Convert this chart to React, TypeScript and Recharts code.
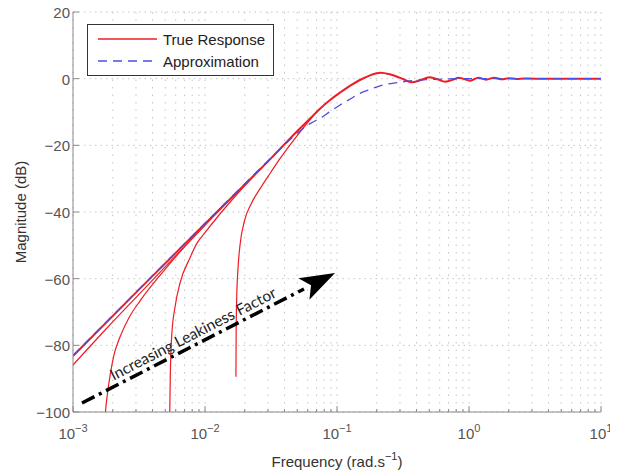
import React from 'react';
import { LineChart, Line, XAxis, YAxis, CartesianGrid, ReferenceLine, ReferenceDot } from 'recharts';

// ---- axis ticks ----
const freqTicks = [
  0.001, 0.002, 0.003, 0.004, 0.005, 0.006, 0.007, 0.008, 0.009,
  0.01, 0.02, 0.03, 0.04, 0.05, 0.06, 0.07, 0.08, 0.09,
  0.1, 0.2, 0.3, 0.4, 0.5, 0.6, 0.7, 0.8, 0.9,
  1, 2, 3, 4, 5, 6, 7, 8, 9, 10,
];
const decadeTicks = [0.001, 0.01, 0.1, 1, 10];
const decadeExps = ['\u22123', '\u22122', '\u22121', '0', '1'];
const magTicks = [-100, -80, -60, -40, -20, 0, 20];

// ---- True response (least leaky) ----
const trueFreq = [0.001, 0.00316, 0.01, 0.0316, 0.0501, 0.0631, 0.0743, 0.0891, 0.1054, 0.126, 0.149, 0.178, 0.2, 0.212, 0.251, 0.316, 0.367, 0.427, 0.501, 0.575, 0.661, 0.759, 0.832, 0.933, 1.023, 1.175, 1.349, 1.549, 1.778, 1.995, 2.291, 2.63, 3.16, 10];
const trueDb = [-83.2, -63.3, -43.5, -23.9, -15.7, -11.8, -9.0, -6.3, -4.2, -2.1, -0.4, 1.0, 1.6, 1.75, 1.3, -0.1, -1.1, -0.5, 0.4, -0.2, -0.9, -0.3, 0.3, -0.2, -0.6, 0.3, -0.3, 0.3, -0.2, 0.15, -0.1, 0.05, 0, 0];

// ---- Approximation ----
const approxFreq = [0.001, 0.01, 0.0316, 0.0398, 0.0501, 0.0631, 0.0743, 0.0891, 0.1054, 0.126, 0.149, 0.178, 0.224, 0.283, 0.398, 0.537, 1, 10];
const approxDb = [-83.0, -43.4, -23.8, -20.0, -16.3, -13.4, -11.9, -9.8, -7.9, -6.1, -4.4, -3.2, -1.9, -1.2, -0.5, -0.2, 0, 0];

// ---- Increasing leakiness responses ----
const leak1Freq = [0.001, 0.00178, 0.00316, 0.00562, 0.01, 0.0178, 0.0316];
const leak1Db = [-85.9, -75.1, -64.7, -54.3, -44.0, -33.8, -23.9];

const leak2Freq = [0.00176, 0.00178, 0.00181, 0.00191, 0.00204, 0.00227, 0.00263, 0.00324, 0.00513, 0.00916, 0.0141];
const leak2Db = [-100, -98, -95.5, -89, -83, -77.5, -72, -66.5, -56.6, -45.3, -37.5];

const leak3Freq = [0.005408, 0.00542, 0.00546, 0.00552, 0.0056, 0.00593, 0.00647, 0.00769, 0.00865, 0.01, 0.0126, 0.0178, 0.0251, 0.0316];
const leak3Db = [-100, -97, -89, -81.7, -76.9, -68.5, -61.3, -53.8, -49.5, -46.2, -41.2, -34.3, -28.0, -23.9];

const leak4Freq = [0.01715, 0.01722, 0.01738, 0.01778, 0.01841, 0.01995, 0.02239, 0.02612, 0.03162, 0.03698, 0.05012, 0.0631, 0.0743];
const leak4Db = [-89.4, -76, -66, -57, -50, -42.5, -37.5, -33, -28, -24, -17, -12.1, -9.0];

// ---- annotation (data coordinates) ----
const arrowStart = { x: 0.00117, y: -97.3 };
const arrowShaftEnd = { x: 0.0562, y: -63.1 };
const arrowTip = { x: 0.0966, y: -58.3 };
const annotationPos = { x: 0.00848, y: -78 };
const annotationText = 'Increasing Leakiness Factor';

const toPts = (f: number[], d: number[]) => f.map((x, i) => ({ x, y: d[i] }));

const trueData = toPts(trueFreq, trueDb);
const approxData = toPts(approxFreq, approxDb);
const leak1Data = toPts(leak1Freq, leak1Db);
const leak2Data = toPts(leak2Freq, leak2Db);
const leak3Data = toPts(leak3Freq, leak3Db);
const leak4Data = toPts(leak4Freq, leak4Db);

const AXIS = '#8a8a8a';
const TXT = '#555';
const FONT = '"Liberation Sans", Arial, sans-serif';
const RED = '#ee1c24';
const BLUE = '#4d4de0';

const isDecade = (v: number) => decadeTicks.some((d) => Math.abs(d - v) / d < 1e-6);

const XTickBottom = (props: any) => {
  const { x, y, payload } = props;
  const v = payload.value;
  const major = isDecade(v);
  const idx = decadeTicks.findIndex((d) => Math.abs(d - v) / d < 1e-6);
  return (
    <g>
      <line x1={x} x2={x} y1={y} y2={y - (major ? 6 : 3)} stroke={AXIS} />
      {major && (
        <text x={x} y={y + 27} textAnchor="middle" fill={TXT} fontSize={15} fontFamily={FONT}>
          10
          <tspan dy={-7} fontSize={11}>{decadeExps[idx]}</tspan>
        </text>
      )}
    </g>
  );
};

const XTickTop = (props: any) => {
  const { x, y, payload } = props;
  const major = isDecade(payload.value);
  return <line x1={x} x2={x} y1={y} y2={y + (major ? 6 : 3)} stroke={AXIS} />;
};

const YTickLeft = (props: any) => {
  const { x, y, payload } = props;
  const v = payload.value;
  return (
    <g>
      <line x1={x} x2={x + 6} y1={y} y2={y} stroke={AXIS} />
      <text x={x - 3} y={y + 6} textAnchor="end" fill={TXT} fontSize={15} fontFamily={FONT}>
        {v < 0 ? '\u2212' + Math.abs(v) : String(v)}
      </text>
    </g>
  );
};

const YTickRight = (props: any) => {
  const { x, y } = props;
  return <line x1={x} x2={x - 6} y1={y} y2={y} stroke={AXIS} />;
};

const XLabel = (props: any) => {
  const vb = props.viewBox || { x: 65, y: 412, width: 528, height: 58 };
  const cx = vb.x + vb.width / 2;
  return (
    <text x={cx} y={vb.y + 55} textAnchor="middle" fill="#333" fontSize={15} fontFamily={FONT}>
      Frequency (rad.s
      <tspan dy={-7} fontSize={11}>{'\u22121'}</tspan>
      <tspan dy={7}>)</tspan>
    </text>
  );
};

const YLabel = (props: any) => {
  const vb = props.viewBox || { x: 0, y: 12, width: 65, height: 400 };
  const cx = vb.x + 18;
  const cy = vb.y + vb.height / 2;
  return (
    <text x={cx} y={cy} textAnchor="middle" fill="#333" fontSize={15} fontFamily={FONT} transform={`rotate(-90, ${cx}, ${cy})`}>
      Magnitude (dB)
    </text>
  );
};

const ArrowHead = (props: any) => {
  const { cx, cy } = props;
  if (cx == null || cy == null) return null;
  const pts = [
    [cx, cy],
    [cx - 36.6, cy + 5.3],
    [cx - 24, cy + 12.3],
    [cx - 25.6, cy + 26.7],
  ].map((p) => p.join(',')).join(' ');
  return <polygon points={pts} fill="#000" />;
};

const AnnotationText = (props: any) => {
  const { cx, cy } = props;
  if (cx == null || cy == null) return null;
  return (
    <text x={cx} y={cy} textAnchor="middle" fill="#222" fontSize={15.5} fontFamily='Lato, "Open Sans", sans-serif' transform={`rotate(-27.2, ${cx}, ${cy})`}>
      {annotationText}
    </text>
  );
};

const LegendBox = () => (
  <div style={{ position: 'absolute', left: 79, top: 24, width: 187, height: 52, border: '1px solid #333', background: '#fff', boxSizing: 'border-box' }}>
    <svg width={185} height={50} style={{ display: 'block' }}>
      <line x1={10} x2={69} y1={14} y2={14} stroke={RED} strokeWidth={1.3} />
      <text x={75} y={20} fill="#222" fontSize={15} fontFamily={FONT}>True Response</text>
      <line x1={10} x2={69} y1={36} y2={36} stroke={BLUE} strokeWidth={1.3} strokeDasharray="9 6" />
      <text x={75} y={42} fill="#222" fontSize={15} fontFamily={FONT}>Approximation</text>
    </svg>
  </div>
);

export default function App() {
  return (
    <div style={{ position: 'relative', width: 610, height: 470, marginTop: -8 }}>
      <LineChart width={610} height={470} margin={{ top: 12, right: 17, bottom: 0, left: 0 }}>
        <CartesianGrid horizontal={false} stroke="#c4c4c4" strokeDasharray="1.5 6" />
        <CartesianGrid vertical={false} stroke="#c4c4c4" strokeDasharray="1.5 4" />
        <XAxis
          dataKey="x"
          type="number"
          scale="log"
          domain={[0.001, 10]}
          ticks={freqTicks}
          interval={0}
          allowDataOverflow
          height={58}
          tickSize={0}
          tickMargin={0}
          tickLine={false}
          axisLine={{ stroke: AXIS }}
          tick={<XTickBottom />}
          label={<XLabel />}
        />
        <XAxis
          xAxisId="top"
          orientation="top"
          dataKey="x"
          type="number"
          scale="log"
          domain={[0.001, 10]}
          ticks={freqTicks}
          interval={0}
          allowDataOverflow
          height={0}
          tickSize={0}
          tickMargin={0}
          tickLine={false}
          axisLine={{ stroke: AXIS }}
          tick={<XTickTop />}
        />
        <YAxis
          type="number"
          domain={[-100, 20]}
          ticks={magTicks}
          interval={0}
          allowDataOverflow
          width={65}
          tickSize={0}
          tickMargin={0}
          tickLine={false}
          axisLine={{ stroke: AXIS }}
          tick={<YTickLeft />}
          label={<YLabel />}
        />
        <YAxis
          yAxisId="right"
          orientation="right"
          type="number"
          domain={[-100, 20]}
          ticks={magTicks}
          interval={0}
          allowDataOverflow
          width={0}
          tickSize={0}
          tickMargin={0}
          tickLine={false}
          axisLine={{ stroke: AXIS }}
          tick={<YTickRight />}
        />
        <Line data={leak1Data} dataKey="y" type="monotone" stroke={RED} strokeWidth={1.2} dot={false} isAnimationActive={false} />
        <Line data={leak2Data} dataKey="y" type="monotone" stroke={RED} strokeWidth={1.2} dot={false} isAnimationActive={false} />
        <Line data={leak3Data} dataKey="y" type="monotone" stroke={RED} strokeWidth={1.2} dot={false} isAnimationActive={false} />
        <Line data={leak4Data} dataKey="y" type="monotone" stroke={RED} strokeWidth={1.2} dot={false} isAnimationActive={false} />
        <Line data={trueData} dataKey="y" type="monotone" stroke={RED} strokeWidth={2} dot={false} isAnimationActive={false} />
        <Line data={approxData} dataKey="y" type="monotone" stroke={BLUE} strokeWidth={1.3} strokeDasharray="9 6" dot={false} isAnimationActive={false} />
        <ReferenceLine segment={[arrowStart, arrowShaftEnd]} stroke="#000" strokeWidth={3.5} strokeDasharray="14 5 3 5" />
        <ReferenceDot x={arrowTip.x} y={arrowTip.y} r={0} shape={<ArrowHead />} />
        <ReferenceDot x={annotationPos.x} y={annotationPos.y} r={0} shape={<AnnotationText />} />
      </LineChart>
      <LegendBox />
    </div>
  );
}
